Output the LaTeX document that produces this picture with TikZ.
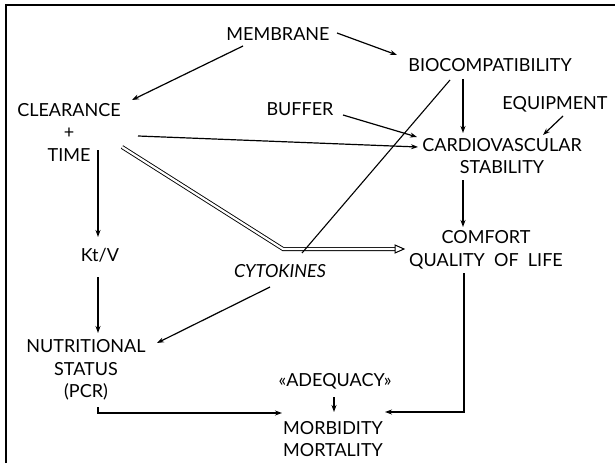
\documentclass[tikz,border=0pt]{standalone}
\usepackage{fontspec}
\setmainfont{Lato}
\usetikzlibrary{arrows.meta,calc}
\tikzset{
  lbl/.style={inner sep=0pt, align=center, font=\fontsize{18}{22.5}\selectfont},
  arr/.style={line width=1.2pt, -{Stealth[length=7pt,width=5pt]}},
  plain/.style={line width=1.1pt},
  dbl/.style={double, double distance=2.2pt, line width=0.9pt},
}
\begin{document}
\begin{tikzpicture}[x=1pt,y=-1pt]
\useasboundingbox (0,0) rectangle (615,463);
\draw[line width=1.8pt] (6,463) -- (6,5) -- (615,5);
% nodes
\node[lbl] (mem) at (278,34) {MEMBRANE};
\node[lbl] (bio) at (490,65) {BIOCOMPATIBILITY};
\node[lbl] (buf) at (300,109) {BUFFER};
\node[lbl] (equ) at (555,104) {EQUIPMENT};
\node[lbl] (cvs) at (502,156) {CARDIOVASCULAR\\STABILITY};
\node[lbl] (clr) at (69,132) {CLEARANCE\\+\\TIME};
\node[lbl] (ktv) at (100,255) {Kt/V};
\node[lbl] (cyt) at (280,271) {\itshape CYTOKINES};
\node[lbl] (com) at (486,250) {COMFORT\\QUALITY\ \ OF\ \ LIFE};
\node[lbl] (nut) at (86,370) {NUTRITIONAL\\STATUS\\(PCR)};
\node[lbl] (adq) at (335,381) {«ADEQUACY»};
\node[lbl] (mor) at (333,439) {MORBIDITY\\MORTALITY};
% connectors
\draw[arr] ($(mem)+(-35,12)$) -- ($(clr)+(63,-32)$);
\draw[arr] ($(mem)+(59,-1)$) -- ($(bio)+(-93,-10)$);
\draw[arr] ($(bio)+(-27,14)$) -- ($(cvs)+(-39,-23)$);
\draw[arr] ($(buf)+(43,6)$) -- ($(cvs)+(-85,-19)$);
\draw[arr] ($(clr)+(69,4)$) -- ($(cvs)+(-84,-9)$);
\draw[arr] ($(equ)+(8,12)$) -- ($(cvs)+(41,-21)$);
\draw[arr] ($(cvs)+(-39,24)$) -- ($(com)+(-23,-23)$);
% double connector
\draw[dbl] ($(clr)+(53,15)$) -- ($(cyt)+(3,-22)$) -- ($(com)+(-90,-1)$);
\draw[line width=1pt, fill=white, line join=miter]
  ($(com)+(-91,-5)$) -- ($(com)+(-82,-1)$) -- ($(com)+(-91,3)$) -- cycle;
\draw[plain] ($(bio)+(-40,15)$) -- ($(cyt)+(22,-18)$);
\draw[arr] ($(clr)+(29,18)$) -- ($(ktv)+(-2,-18)$);
\draw[arr] ($(ktv)+(-2,22)$) -- ($(nut)+(12,-37)$);
\draw[arr] ($(cyt)+(-10,16)$) -- ($(nut)+(71,-27)$);
\draw[arr] ($(nut)+(12,37)$) |- ($(mor)+(-51,-26)$);
\draw[arr] ($(com)+(-22,23)$) |- ($(mor)+(52,-27)$);
\draw[arr] ($(adq)+(-1,16)$) -- ($(mor)+(1,-27)$);
\end{tikzpicture}
\end{document}
